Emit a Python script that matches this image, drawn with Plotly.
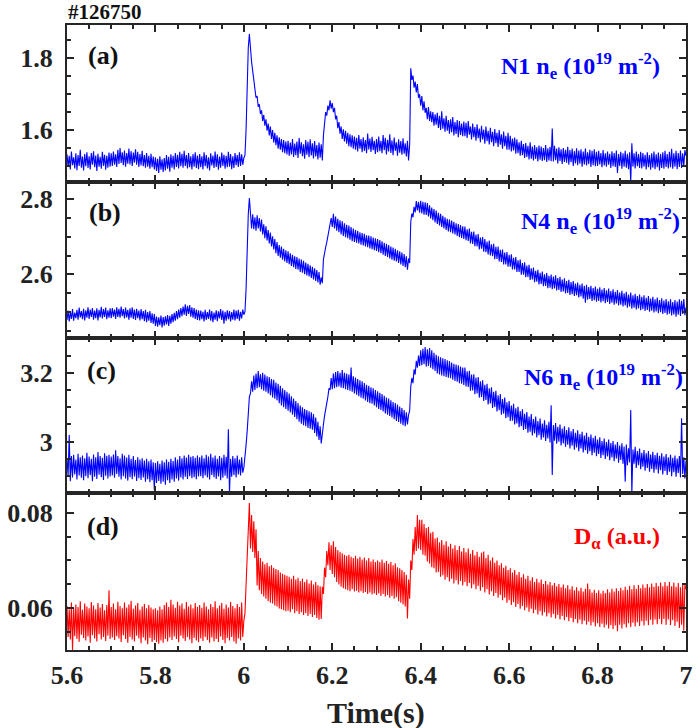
import numpy as np
import plotly.graph_objects as go
from plotly.subplots import make_subplots

# ---------------- data ----------------
# Each trace is stored as 0.1 s blocks sampled every 2.5 ms, starting at 5.6 s.
BLOCK_START = 5.6
BLOCK_LEN = 0.1
SAMPLE_STEP = 0.0025

n1_ne = [
    [1.532, 1.497, 1.528, 1.490, 1.540, 1.502, 1.524, 1.493, 1.535, 1.488, 1.530, 1.500, 1.545, 1.495, 1.526, 1.487, 1.533, 1.499, 1.538, 1.494,
     1.527, 1.490, 1.536, 1.503, 1.541, 1.496, 1.529, 1.486, 1.534, 1.498, 1.525, 1.492, 1.539, 1.500, 1.531, 1.489, 1.528, 1.495, 1.537, 1.498],
    [1.535, 1.500, 1.540, 1.503, 1.532, 1.497, 1.545, 1.505, 1.550, 1.508, 1.538, 1.502, 1.543, 1.498, 1.536, 1.506, 1.548, 1.504, 1.541, 1.500,
     1.537, 1.509, 1.546, 1.503, 1.539, 1.497, 1.533, 1.501, 1.542, 1.499, 1.530, 1.495, 1.536, 1.498, 1.528, 1.492, 1.534, 1.496, 1.526, 1.490],
    [1.524, 1.486, 1.520, 1.480, 1.527, 1.489, 1.518, 1.483, 1.522, 1.487, 1.530, 1.492, 1.525, 1.484, 1.532, 1.495, 1.528, 1.490, 1.536, 1.497,
     1.531, 1.493, 1.539, 1.499, 1.534, 1.495, 1.542, 1.500, 1.530, 1.493, 1.536, 1.496, 1.527, 1.490, 1.533, 1.498, 1.538, 1.494, 1.529, 1.491],
    [1.533, 1.496, 1.527, 1.490, 1.538, 1.499, 1.530, 1.493, 1.524, 1.487, 1.535, 1.501, 1.529, 1.494, 1.540, 1.497, 1.532, 1.489, 1.526, 1.495,
     1.537, 1.500, 1.531, 1.492, 1.528, 1.496, 1.539, 1.498, 1.533, 1.491, 1.527, 1.494, 1.536, 1.502, 1.530, 1.497, 1.538, 1.500, 1.532, 1.503],
    [1.522, 1.530, 1.600, 1.720, 1.830, 1.868, 1.820, 1.790, 1.765, 1.735, 1.715, 1.690, 1.695, 1.665, 1.672, 1.645, 1.655, 1.625, 1.642, 1.612,
     1.630, 1.598, 1.618, 1.585, 1.610, 1.575, 1.600, 1.565, 1.592, 1.558, 1.585, 1.548, 1.580, 1.545, 1.575, 1.538, 1.572, 1.535, 1.568, 1.532],
    [1.570, 1.528, 1.565, 1.532, 1.575, 1.525, 1.562, 1.530, 1.568, 1.522, 1.578, 1.534, 1.566, 1.527, 1.560, 1.520, 1.572, 1.531, 1.567, 1.524,
     1.574, 1.529, 1.563, 1.521, 1.569, 1.526, 1.558, 1.518, 1.565, 1.523, 1.560, 1.515, 1.585, 1.620, 1.650, 1.640, 1.668, 1.655, 1.683, 1.660],
    [1.675, 1.650, 1.662, 1.630, 1.640, 1.605, 1.622, 1.590, 1.610, 1.575, 1.602, 1.568, 1.598, 1.562, 1.592, 1.555, 1.588, 1.552, 1.585, 1.548,
     1.582, 1.545, 1.578, 1.540, 1.586, 1.548, 1.575, 1.538, 1.580, 1.542, 1.572, 1.535, 1.590, 1.546, 1.576, 1.539, 1.581, 1.544, 1.570, 1.533],
    [1.575, 1.538, 1.582, 1.541, 1.570, 1.535, 1.586, 1.544, 1.578, 1.532, 1.573, 1.540, 1.588, 1.536, 1.571, 1.530, 1.579, 1.542, 1.566, 1.528,
     1.574, 1.537, 1.569, 1.531, 1.577, 1.534, 1.563, 1.526, 1.570, 1.515, 1.560, 1.772, 1.740, 1.752, 1.718, 1.735, 1.705, 1.728, 1.690, 1.700],
    [1.668, 1.695, 1.655, 1.680, 1.648, 1.662, 1.630, 1.664, 1.625, 1.652, 1.622, 1.650, 1.612, 1.644, 1.615, 1.648, 1.606, 1.640, 1.600, 1.652,
     1.604, 1.633, 1.595, 1.640, 1.598, 1.628, 1.590, 1.630, 1.594, 1.636, 1.585, 1.622, 1.589, 1.628, 1.580, 1.625, 1.586, 1.618, 1.583, 1.624],
    [1.583, 1.620, 1.578, 1.625, 1.587, 1.610, 1.574, 1.618, 1.580, 1.608, 1.570, 1.616, 1.577, 1.604, 1.566, 1.612, 1.574, 1.601, 1.562, 1.610,
     1.569, 1.598, 1.560, 1.606, 1.566, 1.595, 1.555, 1.603, 1.563, 1.592, 1.553, 1.600, 1.559, 1.588, 1.548, 1.596, 1.555, 1.584, 1.545, 1.592],
    [1.545, 1.584, 1.540, 1.576, 1.543, 1.579, 1.534, 1.574, 1.535, 1.566, 1.528, 1.570, 1.530, 1.561, 1.522, 1.564, 1.525, 1.556, 1.518, 1.566,
     1.520, 1.554, 1.515, 1.558, 1.519, 1.552, 1.512, 1.557, 1.517, 1.554, 1.514, 1.550, 1.516, 1.558, 1.511, 1.549, 1.515, 1.553, 1.513, 1.604],
    [1.512, 1.556, 1.516, 1.548, 1.507, 1.552, 1.514, 1.546, 1.505, 1.550, 1.511, 1.545, 1.509, 1.553, 1.503, 1.544, 1.510, 1.548, 1.500, 1.541,
     1.507, 1.549, 1.502, 1.543, 1.506, 1.546, 1.498, 1.540, 1.504, 1.548, 1.501, 1.538, 1.505, 1.545, 1.497, 1.542, 1.502, 1.546, 1.499, 1.539],
    [1.500, 1.542, 1.504, 1.536, 1.496, 1.544, 1.501, 1.535, 1.498, 1.540, 1.503, 1.534, 1.494, 1.541, 1.499, 1.536, 1.497, 1.543, 1.480, 1.533,
     1.500, 1.539, 1.492, 1.535, 1.498, 1.542, 1.495, 1.534, 1.491, 1.538, 1.455, 1.563, 1.498, 1.535, 1.493, 1.540, 1.499, 1.533, 1.494, 1.539],
    [1.493, 1.536, 1.498, 1.531, 1.490, 1.538, 1.496, 1.530, 1.489, 1.535, 1.495, 1.540, 1.491, 1.532, 1.496, 1.537, 1.487, 1.533, 1.494, 1.538,
     1.492, 1.542, 1.497, 1.533, 1.493, 1.539, 1.496, 1.548, 1.492, 1.535, 1.498, 1.542, 1.491, 1.536, 1.497, 1.543, 1.494, 1.535, 1.500, 1.544],
    [1.528],
]

n4_ne = [
    [2.478, 2.503, 2.474, 2.500, 2.481, 2.507, 2.476, 2.498, 2.483, 2.505, 2.479, 2.511, 2.485, 2.502, 2.480, 2.508, 2.477, 2.504, 2.484, 2.512,
     2.481, 2.506, 2.486, 2.510, 2.479, 2.503, 2.483, 2.509, 2.477, 2.505, 2.485, 2.513, 2.482, 2.507, 2.486, 2.511, 2.480, 2.504, 2.484, 2.509],
    [2.483, 2.510, 2.487, 2.506, 2.481, 2.512, 2.486, 2.508, 2.484, 2.514, 2.488, 2.507, 2.482, 2.511, 2.485, 2.505, 2.479, 2.509, 2.484, 2.512,
     2.481, 2.506, 2.478, 2.508, 2.483, 2.503, 2.477, 2.507, 2.480, 2.502, 2.475, 2.505, 2.472, 2.499, 2.476, 2.502, 2.470, 2.496, 2.468, 2.494],
    [2.462, 2.487, 2.460, 2.485, 2.464, 2.490, 2.458, 2.486, 2.463, 2.488, 2.466, 2.491, 2.462, 2.489, 2.468, 2.494, 2.472, 2.497, 2.476, 2.502,
     2.480, 2.506, 2.484, 2.510, 2.488, 2.514, 2.492, 2.520, 2.489, 2.516, 2.494, 2.518, 2.487, 2.512, 2.484, 2.510, 2.481, 2.506, 2.478, 2.504],
    [2.477, 2.503, 2.480, 2.500, 2.474, 2.505, 2.478, 2.499, 2.481, 2.506, 2.476, 2.502, 2.472, 2.498, 2.479, 2.504, 2.475, 2.501, 2.482, 2.507,
     2.478, 2.503, 2.468, 2.500, 2.476, 2.504, 2.480, 2.502, 2.474, 2.499, 2.479, 2.506, 2.477, 2.503, 2.481, 2.505, 2.476, 2.500, 2.482, 2.506],
    [2.492, 2.500, 2.560, 2.680, 2.760, 2.803, 2.742, 2.722, 2.760, 2.720, 2.752, 2.716, 2.757, 2.722, 2.750, 2.714, 2.746, 2.706, 2.733, 2.696,
     2.728, 2.690, 2.718, 2.682, 2.711, 2.674, 2.701, 2.666, 2.694, 2.656, 2.686, 2.649, 2.678, 2.644, 2.674, 2.639, 2.668, 2.634, 2.664, 2.630],
    [2.661, 2.627, 2.656, 2.622, 2.652, 2.619, 2.648, 2.614, 2.646, 2.612, 2.642, 2.606, 2.639, 2.604, 2.636, 2.600, 2.631, 2.597, 2.628, 2.594,
     2.624, 2.590, 2.620, 2.586, 2.616, 2.582, 2.611, 2.578, 2.606, 2.572, 2.592, 2.576, 2.640, 2.662, 2.672, 2.685, 2.700, 2.715, 2.738, 2.750],
    [2.726, 2.761, 2.722, 2.754, 2.716, 2.748, 2.712, 2.744, 2.706, 2.741, 2.702, 2.736, 2.699, 2.732, 2.696, 2.730, 2.692, 2.726, 2.688, 2.722,
     2.686, 2.718, 2.684, 2.716, 2.682, 2.712, 2.679, 2.710, 2.677, 2.708, 2.674, 2.704, 2.672, 2.703, 2.669, 2.701, 2.667, 2.698, 2.664, 2.696],
    [2.662, 2.694, 2.659, 2.691, 2.656, 2.688, 2.652, 2.684, 2.649, 2.681, 2.646, 2.678, 2.642, 2.674, 2.639, 2.671, 2.636, 2.668, 2.634, 2.664,
     2.630, 2.661, 2.626, 2.658, 2.622, 2.654, 2.619, 2.648, 2.612, 2.642, 2.630, 2.740, 2.762, 2.752, 2.780, 2.765, 2.795, 2.770, 2.793, 2.764],
    [2.796, 2.762, 2.793, 2.759, 2.792, 2.758, 2.790, 2.754, 2.784, 2.749, 2.778, 2.744, 2.774, 2.738, 2.770, 2.734, 2.764, 2.730, 2.761, 2.726,
     2.756, 2.722, 2.752, 2.718, 2.748, 2.714, 2.746, 2.712, 2.743, 2.709, 2.740, 2.706, 2.736, 2.702, 2.734, 2.699, 2.731, 2.697, 2.728, 2.694],
    [2.727, 2.691, 2.720, 2.689, 2.722, 2.682, 2.713, 2.681, 2.714, 2.675, 2.706, 2.674, 2.707, 2.666, 2.698, 2.668, 2.699, 2.660, 2.694, 2.659,
     2.687, 2.653, 2.690, 2.650, 2.680, 2.648, 2.681, 2.640, 2.673, 2.641, 2.674, 2.634, 2.665, 2.633, 2.666, 2.626, 2.658, 2.626, 2.659, 2.620],
    [2.652, 2.620, 2.653, 2.613, 2.644, 2.613, 2.646, 2.606, 2.637, 2.606, 2.639, 2.599, 2.630, 2.599, 2.632, 2.592, 2.623, 2.593, 2.625, 2.585,
     2.616, 2.586, 2.618, 2.579, 2.609, 2.580, 2.612, 2.573, 2.604, 2.574, 2.607, 2.568, 2.600, 2.569, 2.603, 2.563, 2.596, 2.564, 2.599, 2.560],
    [2.594, 2.562, 2.597, 2.557, 2.590, 2.558, 2.593, 2.553, 2.586, 2.554, 2.589, 2.549, 2.582, 2.550, 2.585, 2.545, 2.579, 2.547, 2.582, 2.542,
     2.575, 2.544, 2.578, 2.538, 2.572, 2.541, 2.575, 2.535, 2.569, 2.524, 2.572, 2.532, 2.566, 2.534, 2.569, 2.529, 2.563, 2.531, 2.567, 2.527],
    [2.561, 2.529, 2.565, 2.525, 2.559, 2.528, 2.563, 2.523, 2.557, 2.526, 2.562, 2.521, 2.555, 2.524, 2.560, 2.519, 2.553, 2.522, 2.558, 2.517,
     2.551, 2.519, 2.556, 2.514, 2.549, 2.517, 2.553, 2.511, 2.546, 2.514, 2.551, 2.508, 2.544, 2.511, 2.548, 2.506, 2.542, 2.509, 2.546, 2.504],
    [2.540, 2.507, 2.544, 2.502, 2.537, 2.505, 2.542, 2.500, 2.535, 2.503, 2.540, 2.498, 2.533, 2.501, 2.538, 2.496, 2.531, 2.499, 2.536, 2.494,
     2.530, 2.497, 2.534, 2.492, 2.528, 2.495, 2.533, 2.490, 2.526, 2.493, 2.531, 2.487, 2.527, 2.492, 2.533, 2.489, 2.529, 2.494, 2.534, 2.491],
    [2.512],
]

n6_ne = [
    [2.950, 2.900, 3.019, 2.885, 2.958, 2.896, 2.962, 2.905, 2.948, 2.890, 2.965, 2.902, 2.955, 2.895, 2.960, 2.888, 2.952, 2.900, 2.968, 2.894,
     2.957, 2.903, 2.950, 2.885, 2.963, 2.898, 2.955, 2.892, 2.970, 2.904, 2.958, 2.897, 2.953, 2.889, 2.966, 2.901, 2.959, 2.893, 2.962, 2.899],
    [2.957, 2.902, 2.963, 2.895, 2.975, 2.906, 2.958, 2.898, 2.952, 2.890, 2.965, 2.900, 2.960, 2.893, 2.954, 2.887, 2.962, 2.897, 2.950, 2.891,
     2.958, 2.899, 2.947, 2.886, 2.955, 2.894, 2.948, 2.889, 2.952, 2.896, 2.945, 2.884, 2.950, 2.891, 2.943, 2.882, 2.948, 2.888, 2.940, 2.860],
    [2.938, 2.880, 2.943, 2.886, 2.936, 2.878, 2.945, 2.884, 2.940, 2.875, 2.948, 2.888, 2.942, 2.880, 2.950, 2.890, 2.944, 2.884, 2.955, 2.893,
     2.948, 2.887, 2.958, 2.896, 2.952, 2.890, 2.960, 2.898, 2.954, 2.892, 2.962, 2.900, 2.956, 2.894, 2.958, 2.897, 2.953, 2.891, 2.960, 2.899],
    [2.955, 2.900, 2.960, 2.894, 2.952, 2.902, 2.962, 2.896, 2.957, 2.890, 2.965, 2.903, 2.954, 2.897, 2.960, 2.892, 2.950, 2.899, 2.958, 2.888,
     2.953, 2.895, 2.962, 2.901, 2.956, 2.893, 3.036, 2.850, 2.950, 2.898, 2.958, 2.903, 2.952, 2.896, 2.960, 2.905, 2.948, 2.902, 2.955, 2.910],
    [2.925, 2.950, 2.990, 3.030, 3.080, 3.130, 3.140, 3.175, 3.145, 3.192, 3.150, 3.198, 3.155, 3.205, 3.158, 3.196, 3.152, 3.200, 3.148, 3.195,
     3.145, 3.190, 3.140, 3.188, 3.135, 3.182, 3.128, 3.180, 3.125, 3.172, 3.120, 3.168, 3.112, 3.162, 3.105, 3.155, 3.100, 3.150, 3.095, 3.145],
    [3.090, 3.140, 3.085, 3.132, 3.078, 3.125, 3.072, 3.118, 3.065, 3.112, 3.058, 3.105, 3.052, 3.100, 3.048, 3.095, 3.045, 3.092, 3.040, 3.088,
     3.038, 3.085, 3.035, 3.080, 3.025, 3.070, 3.015, 3.058, 3.005, 3.045, 2.995, 3.030, 3.050, 3.075, 3.090, 3.115, 3.130, 3.155, 3.150, 3.185],
    [3.152, 3.198, 3.155, 3.202, 3.158, 3.205, 3.160, 3.200, 3.157, 3.208, 3.155, 3.200, 3.152, 3.198, 3.150, 3.195, 3.148, 3.215, 3.145, 3.190,
     3.140, 3.186, 3.136, 3.182, 3.132, 3.178, 3.128, 3.175, 3.125, 3.170, 3.120, 3.165, 3.115, 3.162, 3.112, 3.158, 3.110, 3.155, 3.105, 3.150],
    [3.100, 3.146, 3.095, 3.142, 3.092, 3.138, 3.088, 3.133, 3.082, 3.128, 3.078, 3.125, 3.075, 3.120, 3.070, 3.115, 3.065, 3.112, 3.060, 3.108,
     3.057, 3.102, 3.052, 3.098, 3.048, 3.092, 3.045, 3.085, 3.050, 3.078, 3.090, 3.160, 3.185, 3.170, 3.210, 3.195, 3.235, 3.215, 3.250, 3.220],
    [3.265, 3.222, 3.270, 3.225, 3.275, 3.218, 3.268, 3.220, 3.272, 3.215, 3.265, 3.210, 3.258, 3.205, 3.252, 3.198, 3.248, 3.195, 3.245, 3.192,
     3.242, 3.190, 3.240, 3.188, 3.236, 3.186, 3.234, 3.184, 3.230, 3.180, 3.226, 3.176, 3.224, 3.174, 3.222, 3.170, 3.218, 3.168, 3.215, 3.165],
    [3.215, 3.160, 3.204, 3.159, 3.206, 3.148, 3.195, 3.149, 3.196, 3.138, 3.186, 3.140, 3.188, 3.128, 3.175, 3.130, 3.178, 3.118, 3.165, 3.121,
     3.168, 3.108, 3.155, 3.111, 3.158, 3.098, 3.145, 3.101, 3.148, 3.088, 3.135, 3.091, 3.138, 3.078, 3.124, 3.081, 3.128, 3.068, 3.114, 3.071],
    [3.118, 3.060, 3.105, 3.061, 3.110, 3.050, 3.097, 3.053, 3.101, 3.042, 3.089, 3.045, 3.094, 3.034, 3.081, 3.037, 3.086, 3.026, 3.073, 3.029,
     3.080, 3.018, 3.066, 3.024, 3.073, 3.012, 3.060, 3.019, 3.067, 3.006, 3.053, 3.012, 3.062, 3.002, 3.049, 3.009, 3.058, 2.998, 3.106, 2.903],
    [3.048, 3.003, 3.054, 2.994, 3.043, 3.000, 3.050, 2.989, 3.038, 2.995, 3.045, 2.985, 3.034, 2.991, 3.042, 2.980, 3.030, 2.988, 3.037, 2.977,
     3.026, 2.983, 3.033, 2.972, 3.022, 2.980, 3.029, 2.969, 3.018, 2.975, 3.026, 2.965, 3.014, 2.972, 3.021, 2.961, 3.011, 2.968, 3.017, 2.958],
    [3.006, 2.964, 3.013, 2.953, 3.002, 2.961, 3.009, 2.950, 2.999, 2.957, 3.006, 2.946, 2.996, 2.954, 3.002, 2.943, 2.992, 2.951, 2.999, 2.939,
     2.989, 2.947, 2.995, 2.936, 2.986, 2.884, 2.992, 2.932, 2.981, 2.940, 3.092, 2.850, 2.977, 2.936, 2.985, 2.924, 2.973, 2.932, 2.980, 2.920],
    [2.968, 2.927, 2.976, 2.916, 2.966, 2.924, 2.973, 2.913, 2.963, 2.921, 2.971, 2.910, 2.961, 2.919, 2.968, 2.908, 2.959, 2.917, 2.966, 2.905,
     2.957, 2.915, 2.964, 2.903, 2.955, 2.913, 2.962, 2.900, 2.953, 2.911, 2.960, 2.898, 2.951, 2.909, 2.958, 2.896, 3.068, 2.906, 2.955, 2.893],
    [2.945],
]

d_alpha = [
    [0.0605, 0.0540, 0.0598, 0.0535, 0.0612, 0.0513, 0.0600, 0.0542, 0.0608, 0.0536, 0.0603, 0.0530, 0.0615, 0.0545, 0.0597, 0.0538, 0.0610, 0.0533, 0.0604, 0.0541,
     0.0600, 0.0528, 0.0613, 0.0544, 0.0606, 0.0537, 0.0598, 0.0531, 0.0611, 0.0546, 0.0602, 0.0535, 0.0609, 0.0540, 0.0596, 0.0532, 0.0607, 0.0543, 0.0638, 0.0536],
    [0.0603, 0.0539, 0.0610, 0.0534, 0.0598, 0.0542, 0.0614, 0.0537, 0.0605, 0.0530, 0.0600, 0.0544, 0.0612, 0.0536, 0.0602, 0.0528, 0.0608, 0.0540, 0.0616, 0.0535,
     0.0599, 0.0531, 0.0606, 0.0543, 0.0611, 0.0537, 0.0597, 0.0527, 0.0604, 0.0539, 0.0609, 0.0533, 0.0600, 0.0525, 0.0607, 0.0538, 0.0602, 0.0530, 0.0598, 0.0534],
    [0.0600, 0.0530, 0.0596, 0.0526, 0.0604, 0.0533, 0.0598, 0.0528, 0.0607, 0.0536, 0.0612, 0.0531, 0.0603, 0.0539, 0.0618, 0.0534, 0.0608, 0.0541, 0.0601, 0.0536,
     0.0614, 0.0529, 0.0606, 0.0543, 0.0610, 0.0537, 0.0599, 0.0532, 0.0613, 0.0540, 0.0604, 0.0535, 0.0608, 0.0527, 0.0600, 0.0538, 0.0611, 0.0533, 0.0603, 0.0529],
    [0.0607, 0.0537, 0.0601, 0.0532, 0.0612, 0.0540, 0.0604, 0.0534, 0.0598, 0.0528, 0.0609, 0.0539, 0.0603, 0.0531, 0.0615, 0.0536, 0.0600, 0.0530, 0.0606, 0.0541,
     0.0611, 0.0534, 0.0599, 0.0527, 0.0608, 0.0538, 0.0602, 0.0533, 0.0613, 0.0540, 0.0605, 0.0531, 0.0600, 0.0526, 0.0609, 0.0537, 0.0603, 0.0533, 0.0612, 0.0540],
    [0.0575, 0.0590, 0.0650, 0.0700, 0.0760, 0.0820, 0.0725, 0.0795, 0.0718, 0.0782, 0.0705, 0.0765, 0.0648, 0.0720, 0.0638, 0.0705, 0.0630, 0.0698, 0.0625, 0.0692,
     0.0620, 0.0695, 0.0615, 0.0688, 0.0612, 0.0690, 0.0610, 0.0685, 0.0606, 0.0682, 0.0604, 0.0680, 0.0600, 0.0675, 0.0598, 0.0672, 0.0596, 0.0670, 0.0594, 0.0668],
    [0.0595, 0.0666, 0.0592, 0.0662, 0.0598, 0.0668, 0.0590, 0.0660, 0.0594, 0.0664, 0.0588, 0.0657, 0.0592, 0.0662, 0.0586, 0.0655, 0.0590, 0.0660, 0.0584, 0.0652,
     0.0588, 0.0658, 0.0582, 0.0650, 0.0586, 0.0655, 0.0580, 0.0648, 0.0576, 0.0646, 0.0578, 0.0645, 0.0630, 0.0685, 0.0665, 0.0720, 0.0690, 0.0738, 0.0680, 0.0732],
    [0.0672, 0.0740, 0.0665, 0.0728, 0.0655, 0.0722, 0.0650, 0.0718, 0.0645, 0.0715, 0.0642, 0.0712, 0.0640, 0.0710, 0.0638, 0.0712, 0.0636, 0.0708, 0.0640, 0.0705,
     0.0635, 0.0710, 0.0637, 0.0704, 0.0633, 0.0708, 0.0636, 0.0702, 0.0632, 0.0706, 0.0634, 0.0700, 0.0630, 0.0705, 0.0633, 0.0698, 0.0629, 0.0702, 0.0631, 0.0697],
    [0.0628, 0.0700, 0.0631, 0.0697, 0.0626, 0.0702, 0.0630, 0.0695, 0.0625, 0.0699, 0.0628, 0.0693, 0.0622, 0.0697, 0.0626, 0.0690, 0.0620, 0.0694, 0.0623, 0.0686,
     0.0615, 0.0684, 0.0612, 0.0680, 0.0608, 0.0676, 0.0604, 0.0670, 0.0579, 0.0660, 0.0620, 0.0700, 0.0680, 0.0745, 0.0712, 0.0770, 0.0720, 0.0795, 0.0725, 0.0785],
    [0.0722, 0.0785, 0.0712, 0.0776, 0.0710, 0.0768, 0.0698, 0.0770, 0.0694, 0.0758, 0.0686, 0.0760, 0.0684, 0.0746, 0.0675, 0.0748, 0.0676, 0.0738, 0.0666, 0.0743,
     0.0669, 0.0733, 0.0660, 0.0740, 0.0665, 0.0729, 0.0656, 0.0735, 0.0662, 0.0725, 0.0652, 0.0732, 0.0659, 0.0722, 0.0650, 0.0730, 0.0657, 0.0719, 0.0648, 0.0726],
    [0.0655, 0.0717, 0.0646, 0.0725, 0.0653, 0.0714, 0.0642, 0.0722, 0.0650, 0.0711, 0.0640, 0.0718, 0.0647, 0.0708, 0.0637, 0.0716, 0.0644, 0.0719, 0.0633, 0.0705,
     0.0640, 0.0712, 0.0629, 0.0700, 0.0636, 0.0706, 0.0626, 0.0695, 0.0632, 0.0700, 0.0622, 0.0690, 0.0628, 0.0694, 0.0617, 0.0685, 0.0622, 0.0689, 0.0612, 0.0680],
    [0.0617, 0.0684, 0.0607, 0.0675, 0.0613, 0.0680, 0.0603, 0.0670, 0.0609, 0.0676, 0.0599, 0.0665, 0.0605, 0.0671, 0.0596, 0.0662, 0.0602, 0.0668, 0.0593, 0.0658,
     0.0599, 0.0665, 0.0590, 0.0655, 0.0597, 0.0662, 0.0587, 0.0654, 0.0594, 0.0660, 0.0585, 0.0651, 0.0592, 0.0657, 0.0583, 0.0650, 0.0590, 0.0655, 0.0581, 0.0648],
    [0.0588, 0.0653, 0.0579, 0.0646, 0.0586, 0.0651, 0.0577, 0.0644, 0.0584, 0.0650, 0.0575, 0.0642, 0.0582, 0.0648, 0.0573, 0.0640, 0.0580, 0.0646, 0.0571, 0.0638,
     0.0578, 0.0644, 0.0569, 0.0637, 0.0576, 0.0643, 0.0567, 0.0635, 0.0574, 0.0641, 0.0566, 0.0652, 0.0572, 0.0640, 0.0564, 0.0633, 0.0571, 0.0639, 0.0562, 0.0632],
    [0.0569, 0.0638, 0.0561, 0.0631, 0.0568, 0.0637, 0.0560, 0.0632, 0.0566, 0.0640, 0.0558, 0.0633, 0.0565, 0.0641, 0.0557, 0.0635, 0.0564, 0.0642, 0.0552, 0.0636,
     0.0566, 0.0643, 0.0558, 0.0638, 0.0567, 0.0645, 0.0560, 0.0639, 0.0569, 0.0647, 0.0561, 0.0640, 0.0570, 0.0648, 0.0562, 0.0641, 0.0571, 0.0649, 0.0563, 0.0642],
    [0.0573, 0.0650, 0.0564, 0.0643, 0.0574, 0.0651, 0.0565, 0.0644, 0.0576, 0.0652, 0.0566, 0.0645, 0.0577, 0.0653, 0.0567, 0.0646, 0.0578, 0.0654, 0.0567, 0.0646,
     0.0578, 0.0655, 0.0566, 0.0647, 0.0577, 0.0655, 0.0565, 0.0646, 0.0575, 0.0654, 0.0563, 0.0645, 0.0572, 0.0653, 0.0559, 0.0644, 0.0566, 0.0652, 0.0553, 0.0650],
    [0.0640],
]

panel_tags = ["(a)", "(b)", "(c)", "(d)"]
series_labels = [
    "N1 n<sub>e</sub> (10<sup>19</sup> m<sup>-2</sup>)",
    "N4 n<sub>e</sub> (10<sup>19</sup> m<sup>-2</sup>)",
    "N6 n<sub>e</sub> (10<sup>19</sup> m<sup>-2</sup>)",
    "D<sub>α</sub> (a.u.)",
]
shot_label = "#126750"
x_title = "Time(s)"


def to_xy(blocks):
    xs, ys = [], []
    for k, blk in enumerate(blocks):
        for j, v in enumerate(blk):
            xs.append(round(BLOCK_START + BLOCK_LEN * k + SAMPLE_STEP * j, 5))
            ys.append(v)
    return xs, ys


# ---------------- figure ----------------
series = [n1_ne, n4_ne, n6_ne, d_alpha]
colors = ["#0000FF", "#0000FF", "#0000FF", "#FF0000"]
y_ranges = [[1.455, 1.893], [2.43, 2.846], [2.851, 3.301], [0.0513, 0.0841]]
y_dticks = [0.2, 0.2, 0.2, 0.02]
y_minor = [0.05, 0.05, 0.05, 0.005]
domains = [[0.7488, 1.0], [0.4992, 0.7488], [0.2512, 0.4992], [0.0, 0.2512]]

FONT = "Liberation Serif, Times New Roman, serif"
AX = "#262626"

fig = make_subplots(rows=4, cols=1, shared_xaxes=True, vertical_spacing=0)

for i, blocks in enumerate(series):
    xs, ys = to_xy(blocks)
    fig.add_trace(
        go.Scatter(x=xs, y=ys, mode="lines",
                   line=dict(color=colors[i], width=1.1),
                   hoverinfo="skip", showlegend=False),
        row=i + 1, col=1)

for i in range(4):
    r = i + 1
    fig.update_xaxes(
        row=r, col=1, range=[5.6, 7.0], dtick=0.2, tick0=5.6,
        showline=True, linecolor=AX, linewidth=2, mirror="ticks",
        ticks="inside", ticklen=7, tickwidth=2, tickcolor=AX,
        minor=dict(dtick=0.05, ticklen=4, tickwidth=1.5, tickcolor=AX, ticks="inside"),
        showgrid=False, zeroline=False,
        showticklabels=(r == 4),
        tickfont=dict(family=FONT, size=26, color="#222222", weight="bold"),
        ticklabelstandoff=1,
    )
    fig.update_yaxes(
        row=r, col=1, range=y_ranges[i], dtick=y_dticks[i], tick0=0,
        domain=domains[i],
        showline=True, linecolor=AX, linewidth=2, mirror="ticks",
        ticks="inside", ticklen=7, tickwidth=2, tickcolor=AX,
        minor=dict(dtick=y_minor[i], ticklen=4, tickwidth=1.5, tickcolor=AX, ticks="inside"),
        showgrid=False, zeroline=False,
        tickfont=dict(family=FONT, size=26, color="#222222", weight="bold"),
        ticklabelstandoff=7,
    )

ann = []
tag_pos = [(0.0300, 0.952), (0.0330, 0.6997), (0.0285, 0.4469), (0.0285, 0.1973)]
for (x, y), tag in zip(tag_pos, panel_tags):
    ann.append(dict(x=x, y=y, xref="paper", yref="paper", text="<b>%s</b>" % tag,
                    showarrow=False, xanchor="left", yanchor="middle",
                    font=dict(family=FONT, size=26, color="#111111")))

lab_pos = [(0.962, 0.934), (0.993, 0.686), (0.998, 0.4368), (0.962, 0.180)]
for (x, y), txt, c in zip(lab_pos, series_labels, colors):
    ann.append(dict(x=x, y=y, xref="paper", yref="paper", text="<b>%s</b>" % txt,
                    showarrow=False, xanchor="right", yanchor="middle",
                    font=dict(family=FONT, size=24, color=c)))

ann.append(dict(x=-0.0016, y=1.0208, xref="paper", yref="paper", text="<b>%s</b>" % shot_label,
                showarrow=False, xanchor="left", yanchor="middle",
                font=dict(family=FONT, size=21, color="#111111")))
ann.append(dict(x=0.4992, y=-0.1008, xref="paper", yref="paper", text="<b>%s</b>" % x_title,
                showarrow=False, xanchor="center", yanchor="middle",
                font=dict(family=FONT, size=30, color="#222222")))

fig.update_layout(
    width=700, height=728,
    margin=dict(l=58, r=7, t=25, b=78),
    paper_bgcolor="white", plot_bgcolor="white",
    annotations=ann, showlegend=False,
)

fig.write_html("out.html")
